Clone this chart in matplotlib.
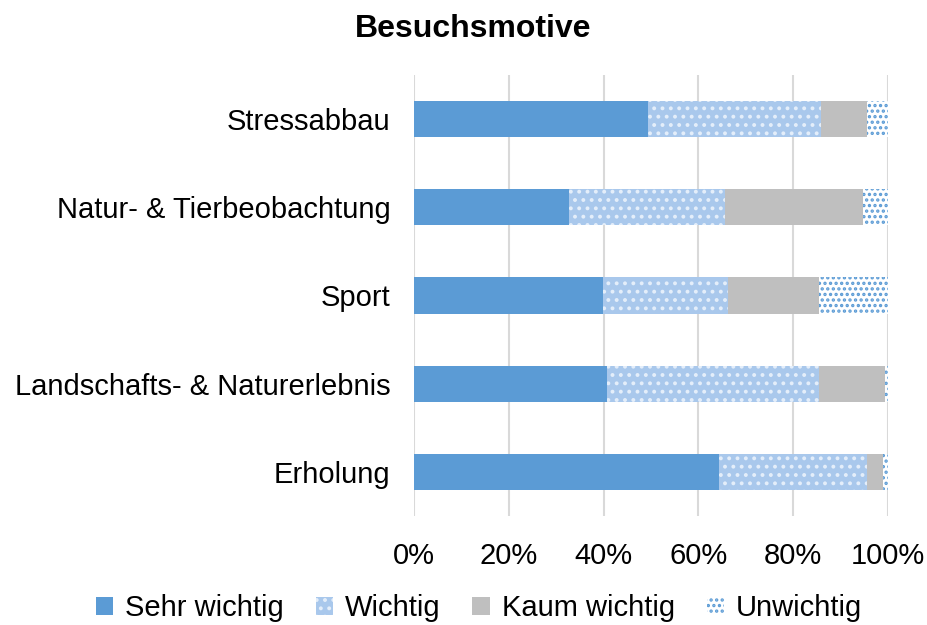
import matplotlib
matplotlib.use("Agg")
import matplotlib.pyplot as plt
from matplotlib.ticker import FuncFormatter

plt.rcParams['font.family'] = ['Liberation Sans', 'DejaVu Sans']
plt.rcParams['hatch.linewidth'] = 1.6

categories = ["Stressabbau", "Natur- & Tierbeobachtung", "Sport",
              "Landschafts- & Naturerlebnis", "Erholung"]
series_names = ["Sehr wichtig", "Wichtig", "Kaum wichtig", "Unwichtig"]
sehr_wichtig = [49.4, 32.7, 39.9, 40.8, 64.4]
wichtig = [36.5, 33.0, 26.3, 44.6, 31.1]
kaum_wichtig = [9.6, 29.0, 19.2, 13.9, 3.4]
unwichtig = [4.5, 5.3, 14.6, 0.7, 1.1]
x_ticks = [0, 20, 40, 60, 80, 100]

fig = plt.figure(figsize=(9.28, 6.25), dpi=100)
ax = fig.add_axes([0.446, 0.1744, 0.511, 0.7056])

y = list(range(len(categories)))[::-1]
h = 0.41
left = [0] * len(categories)

styles = [
    dict(facecolor='#5b9bd5', edgecolor='none', hatch=None),
    dict(facecolor='#a9c8ec', edgecolor='#e4eefa', hatch='..'),
    dict(facecolor='#bfbfbf', edgecolor='none', hatch=None),
    dict(facecolor='white', edgecolor='#5b9bd5', hatch='...'),
]
data = [sehr_wichtig, wichtig, kaum_wichtig, unwichtig]
for name, vals, st in zip(series_names, data, styles):
    ax.barh(y, vals, left=left, height=h, label=name,
            facecolor=st['facecolor'], edgecolor=st['edgecolor'],
            hatch=st['hatch'], linewidth=0, zorder=3)
    left = [l + v for l, v in zip(left, vals)]

ax.set_xlim(0, 100)
ax.set_ylim(-0.5, 4.5)
ax.set_xticks(x_ticks)
ax.xaxis.set_major_formatter(FuncFormatter(lambda v, p: f"{int(v)}%"))
ax.set_yticks(y)
ax.set_yticklabels(categories)
ax.tick_params(axis='both', length=0, labelsize=21, colors='#000000')
ax.tick_params(axis='x', pad=19)
ax.tick_params(axis='y', pad=17)
ax.grid(axis='x', color='#d9d9d9', linewidth=1.5, zorder=0)
for s in ax.spines.values():
    s.set_visible(False)

fig.text(0.51, 0.953, "Besuchsmotive", fontsize=23, fontweight='bold',
         ha='center', va='center')

fig.legend(loc='center', bbox_to_anchor=(0.516, 0.027), ncol=4, frameon=False,
           fontsize=21, handlelength=0.6, handleheight=0.6,
           handletextpad=0.4, columnspacing=1.1)

fig.savefig("out.png", dpi=100)
